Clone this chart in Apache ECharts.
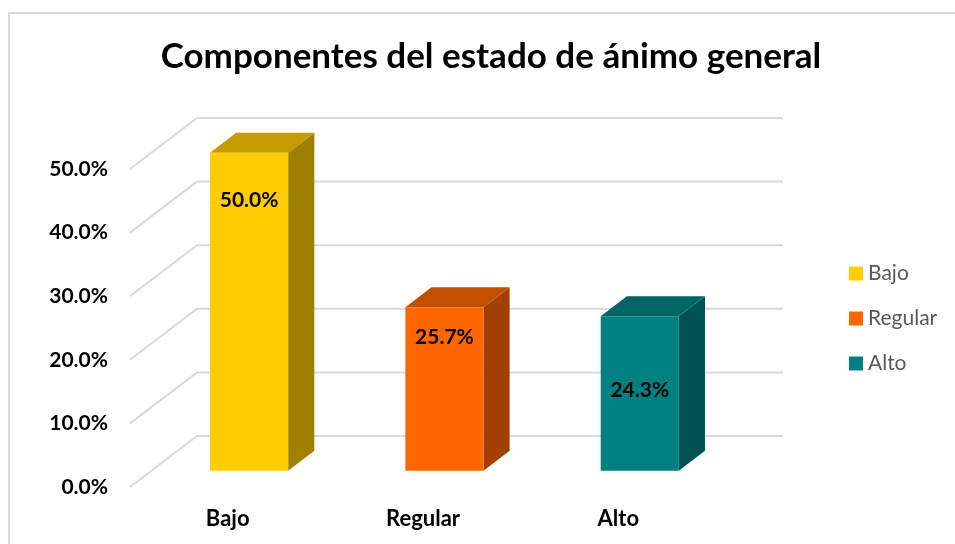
<!DOCTYPE html>
<html>
<head>
<meta charset="utf-8">
<script src="https://cdn.jsdelivr.net/npm/echarts@6/dist/echarts.min.js"></script>
<style>
html,body{margin:0;padding:0;background:#fff;}
#chart{width:955px;height:544px;}
</style>
</head>
<body>
<div id="chart"></div>
<script>
// ---- data ----
const titleText = 'Componentes del estado de ánimo general';
const categories = ['Bajo', 'Regular', 'Alto'];
const values = [50.0, 25.7, 24.3];
const yTicks = [0, 10, 20, 30, 40, 50];

// ---- style ----
const frontColors = ['#FFCC00', '#FF6600', '#008080'];
const topColors = ['#C49C00', '#C24E00', '#006664'];
const sideColors = ['#A08000', '#A34000', '#005352'];
const labelDy = [48, 30, 74];
const FONT = 'Lato, "Open Sans", sans-serif';

const chart = echarts.init(document.getElementById('chart'));

// depth geometry as fractions of the category band width
const WALL_DX = 0.343, WALL_DY = -0.261;
const BAR_POS = 0.32, BAR_DEPTH = 0.39, BAR_HALF = 0.2;

function gridRender(params, api) {
  const v = api.value(1);
  const p = api.coord([0, v]);
  const bw = api.size([1, 0])[0];
  const x0 = p[0] - bw / 2, y0 = p[1];
  const dx = bw * WALL_DX, dy = bw * WALL_DY;
  return {
    type: 'polyline',
    shape: { points: [[x0, y0], [x0 + dx, y0 + dy], [x0 + dx + bw * categories.length, y0 + dy]] },
    style: { stroke: '#D9D9D9', lineWidth: 2, fill: null },
    silent: true
  };
}

function makeBarRender(i) {
  return function (params, api) {
    const v = api.value(1);
    const c = api.coord([i, v]);
    const b = api.coord([i, 0]);
    const bw = api.size([1, 0])[0];
    const ox = bw * WALL_DX * BAR_POS, oy = bw * WALL_DY * BAR_POS;
    const dx = bw * WALL_DX * BAR_DEPTH, dy = bw * WALL_DY * BAR_DEPTH;
    const hw = bw * BAR_HALF;
    const xl = c[0] + ox - hw, xr = c[0] + ox + hw;
    const yt = c[1] + oy, yb = b[1] + oy;
    return {
      type: 'group',
      children: [
        { type: 'polygon', shape: { points: [[xr, yt], [xr + dx, yt + dy], [xr + dx, yb + dy], [xr, yb]] },
          style: { fill: sideColors[i] } },
        { type: 'polygon', shape: { points: [[xl, yt], [xl + dx, yt + dy], [xr + dx, yt + dy], [xr, yt]] },
          style: { fill: topColors[i] } },
        { type: 'rect', shape: { x: xl, y: yt, width: xr - xl, height: yb - yt },
          style: { fill: frontColors[i] } },
        { type: 'text', x: (xl + xr) / 2, y: yt + labelDy[i],
          style: { text: values[i].toFixed(1) + '%', fill: '#000', font: 'bold 21px ' + FONT,
                   align: 'center', verticalAlign: 'middle' } }
      ]
    };
  };
}

const series = [{
  type: 'custom',
  name: '_grid',
  renderItem: gridRender,
  data: yTicks.map(v => [0, v]),
  z: 1,
  silent: true
}];
categories.forEach((name, i) => {
  series.push({
    type: 'custom',
    name: name,
    renderItem: makeBarRender(i),
    data: [[i, values[i]]],
    itemStyle: { color: frontColors[i] },
    z: 2
  });
});

chart.setOption({
  animation: false,
  backgroundColor: '#fff',
  title: {
    text: titleText,
    left: 491, top: 39, textAlign: 'center', padding: 0,
    textStyle: { fontFamily: FONT, fontWeight: 'bold', fontSize: 35, color: '#000' }
  },
  legend: {
    data: categories,
    orient: 'vertical',
    left: 849, top: 263, padding: 0,
    itemWidth: 14, itemHeight: 14, itemGap: 24,
    icon: 'rect',
    textStyle: { fontFamily: FONT, fontSize: 21, color: '#595959' }
  },
  grid: { left: 130, right: 239, top: 169, bottom: 57, containLabel: false },
  xAxis: {
    type: 'category',
    data: categories,
    axisLine: { show: false }, axisTick: { show: false },
    axisLabel: { margin: 21, fontFamily: FONT, fontWeight: 'bold', fontSize: 22, color: '#000' }
  },
  yAxis: {
    type: 'value', min: 0, max: 50, interval: 10,
    axisLine: { show: false }, axisTick: { show: false }, splitLine: { show: false },
    axisLabel: { margin: 22, fontFamily: FONT, fontWeight: 'bold', fontSize: 21, color: '#000',
                 formatter: v => v.toFixed(1) + '%' }
  },
  graphic: [{
    type: 'rect', silent: true, z: 0,
    shape: { x: 9, y: 13, width: 960, height: 540 },
    style: { fill: null, stroke: '#D9D9D9', lineWidth: 2 }
  }],
  series: series
});
</script>
</body>
</html>
